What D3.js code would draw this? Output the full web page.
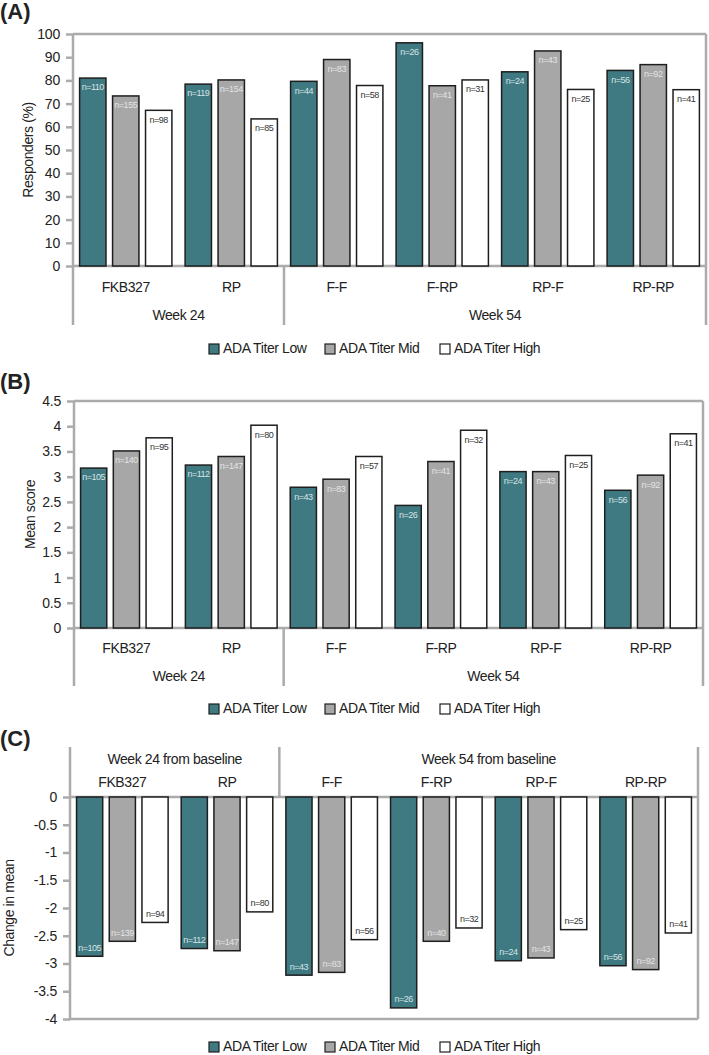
<!doctype html>
<html>
<head>
<meta charset="utf-8">
<title>ADA titer panels</title>
<script src="https://cdn.jsdelivr.net/npm/d3@7"></script>
<style>
  body { margin: 0; background: #fff; }
  svg { display: block; }
  .tick text, .lab { font-family: 'Liberation Sans', Arial, sans-serif; fill: #222; letter-spacing: -0.4px; }
  .ptitle { font-family: 'Liberation Sans', Arial, sans-serif; font-weight: bold; font-size: 22px; fill: #222; }
</style>
</head>
<body>
<script>

// categories and groups
var categories = ["FKB327", "RP", "F-F", "F-RP", "RP-F", "RP-RP"];
var catWeek = ["Week 24", "Week 24", "Week 54", "Week 54", "Week 54", "Week 54"];
var weeks = ["Week 24", "Week 54"];
var weeksC = ["Week 24 from baseline", "Week 54 from baseline"];
var series = ["ADA Titer Low", "ADA Titer Mid", "ADA Titer High"];

// (A) responders %
var respLow  = [81.0, 78.4, 79.6, 96.2, 83.7, 84.3];
var respMid  = [73.3, 80.2, 89.0, 77.7, 92.7, 86.8];
var respHigh = [67.1, 63.4, 77.8, 80.2, 76.1, 76.0];
var respNLow  = [110, 119, 44, 26, 24, 56];
var respNMid  = [155, 154, 83, 41, 43, 92];
var respNHigh = [98, 85, 58, 31, 25, 41];

// (B) mean score
var scoreLow  = [3.17, 3.23, 2.79, 2.43, 3.10, 2.73];
var scoreMid  = [3.51, 3.40, 2.95, 3.30, 3.10, 3.03];
var scoreHigh = [3.77, 4.02, 3.40, 3.92, 3.42, 3.85];
var scoreNLow  = [105, 112, 43, 26, 24, 56];
var scoreNMid  = [140, 147, 83, 41, 43, 92];
var scoreNHigh = [95, 80, 57, 32, 25, 41];

// (C) change in mean
var changeLow  = [-2.87, -2.73, -3.21, -3.80, -2.95, -3.04];
var changeMid  = [-2.60, -2.77, -3.16, -2.60, -2.90, -3.11];
var changeHigh = [-2.26, -2.07, -2.57, -2.36, -2.39, -2.45];
var changeNLow  = [105, 112, 43, 26, 24, 56];
var changeNMid  = [139, 147, 83, 40, 43, 92];
var changeNHigh = [94, 80, 56, 32, 25, 41];

// tick labels
var ticksA = [0, 10, 20, 30, 40, 50, 60, 70, 80, 90, 100];
var ticksB = [0, 0.5, 1, 1.5, 2, 2.5, 3, 3.5, 4, 4.5];
var ticksC = [0, -0.5, -1, -1.5, -2, -2.5, -3, -3.5, -4];

var fills = ["#3f7981", "#a7a7a7", "#ffffff"];
var nColors = ["#d6e4e6", "#e4e4e4", "#333333"];
var frameCol = "#ababab";

var width = 709, height = 1055;

var svg = d3.select("body").append("svg")
  .attr("width", width)
  .attr("height", height);

function rows(vals, ns) {
  // one row per category: [{s, v, n}, ...]
  return categories.map(function(c, i) {
    return series.map(function(s, k) { return { s: s, v: vals[k][i], n: ns[k][i], k: k }; });
  });
}

function drawPanel(p) {
  var g = svg.append("g");
  var x = d3.scaleBand().domain(categories).range([p.left, p.right]);
  var xs = d3.scaleBand().domain(series).range([0, x.bandwidth()])
    .paddingInner(0.2).paddingOuter(0.2);
  var y = d3.scaleLinear().domain(p.domain).range([p.bottom, p.top]);
  var y0 = y(0);

  // frame lines
  var top = p.header ? p.frameTop : y(p.domain[1]);
  var bot = p.header ? y(p.domain[0]) : p.frameBottom;
  [p.left, p.right].forEach(function(xx) {
    g.append("line").attr("x1", xx).attr("x2", xx).attr("y1", top).attr("y2", bot)
      .attr("stroke", frameCol).attr("stroke-width", 2.5);
  });
  p.domain.forEach(function(d) {
    g.append("line").attr("x1", p.left).attr("x2", p.right).attr("y1", y(d)).attr("y2", y(d))
      .attr("stroke", frameCol).attr("stroke-width", 2.5);
  });

  // week separators
  var weekStarts = weeks.map(function(w) {
    var cs = categories.filter(function(c, i) { return catWeek[i] === w; });
    return { w: w, x0: x(cs[0]), x1: x(cs[cs.length - 1]) + x.bandwidth() };
  });
  weekStarts.slice(1).forEach(function(d) {
    g.append("line").attr("x1", d.x0).attr("x2", d.x0)
      .attr("y1", p.header ? p.frameTop : y0)
      .attr("y2", p.header ? y0 : p.frameBottom)
      .attr("stroke", frameCol).attr("stroke-width", 2.5);
  });

  // y axis
  var ax = g.append("g").attr("transform", "translate(" + p.left + ",0)")
    .call(d3.axisLeft(y).tickValues(p.ticks).tickSize(7).tickPadding(6)
      .tickFormat(function(d) { return String(d); }));
  ax.select(".domain").remove();
  ax.selectAll(".tick line").attr("stroke", frameCol).attr("stroke-width", 2.5);
  ax.selectAll(".tick text").style("font-size", "14px").style("letter-spacing", "-0.2px");

  // y title
  g.append("text").attr("class", "lab")
    .attr("transform", "translate(" + p.ytitleX + "," + ((p.top + p.bottom) / 2) + ") rotate(-90)")
    .attr("text-anchor", "middle").attr("dominant-baseline", "middle")
    .style("font-size", "14px").text(p.ytitle);

  // panel letter
  g.append("text").attr("class", "ptitle").attr("x", 0).attr("y", p.titleY)
    .attr("dominant-baseline", "middle").text(p.letter);

  // category + week labels
  g.selectAll(".cat").data(categories).enter().append("text")
    .attr("class", "lab")
    .attr("x", function(d) { return x(d) + x.bandwidth() / 2; })
    .attr("y", p.catY).attr("text-anchor", "middle").attr("dominant-baseline", "middle")
    .style("font-size", "14px").text(function(d) { return d; });
  g.selectAll(".wk").data(weekStarts).enter().append("text")
    .attr("class", "lab")
    .attr("x", function(d) { return (d.x0 + d.x1) / 2; })
    .attr("y", p.weekY).attr("text-anchor", "middle").attr("dominant-baseline", "middle")
    .style("font-size", "14px").text(function(d, i) { return p.weekNames[i]; });

  // bars
  var cat = g.selectAll(".catg").data(rows(p.vals, p.ns)).enter().append("g")
    .attr("transform", function(d, i) { return "translate(" + x(categories[i]) + ",0)"; });
  cat.selectAll("rect").data(function(d) { return d; }).enter().append("rect")
    .attr("x", function(d) { return xs(d.s); })
    .attr("y", function(d) { return Math.min(y(d.v), y0); })
    .attr("width", xs.bandwidth())
    .attr("height", function(d) { return Math.abs(y(d.v) - y0); })
    .attr("fill", function(d) { return fills[d.k]; })
    .attr("stroke", "#1e1e1e").attr("stroke-width", 1.5);
  cat.selectAll(".nl").data(function(d) { return d; }).enter().append("text")
    .attr("class", "lab")
    .attr("x", function(d) { return xs(d.s) + xs.bandwidth() / 2; })
    .attr("y", function(d) { return d.v >= 0 ? y(d.v) + 10 : y(d.v) - 8; })
    .attr("text-anchor", "middle").attr("dominant-baseline", "middle")
    .style("font-size", "9px").style("letter-spacing", "-0.5px")
    .style("fill", function(d) { return nColors[d.k]; })
    .text(function(d) { return "n=" + d.n; });

  // legend
  var lx = [209, 325, 440];
  var leg = g.selectAll(".leg").data(series).enter().append("g")
    .attr("transform", function(d, i) { return "translate(" + lx[i] + "," + p.legendY + ")"; });
  leg.append("rect").attr("x", 0).attr("y", -5).attr("width", 10).attr("height", 10)
    .attr("fill", function(d, i) { return fills[i]; })
    .attr("stroke", "#1e1e1e").attr("stroke-width", 1.2);
  leg.append("text").attr("class", "lab").attr("x", 14).attr("y", 0)
    .attr("dominant-baseline", "middle").style("font-size", "14px")
    .text(function(d) { return d; });
}

drawPanel({
  letter: "(A)", titleY: 13, ytitle: "Responders (%)", ytitleX: 29,
  left: 73, right: 706, top: 34, bottom: 266, domain: [0, 100], ticks: ticksA,
  catY: 288, weekY: 316, frameBottom: 325, legendY: 349, weekNames: weeks,
  vals: [respLow, respMid, respHigh], ns: [respNLow, respNMid, respNHigh]
});

drawPanel({
  letter: "(B)", titleY: 383, ytitle: "Mean score", ytitleX: 31,
  left: 74, right: 703, top: 401, bottom: 628, domain: [0, 4.5], ticks: ticksB,
  catY: 649, weekY: 677, frameBottom: 686, legendY: 709, weekNames: weeks,
  vals: [scoreLow, scoreMid, scoreHigh], ns: [scoreNLow, scoreNMid, scoreNHigh]
});

drawPanel({
  letter: "(C)", titleY: 740, ytitle: "Change in mean", ytitleX: 10, header: true,
  left: 70, right: 698, top: 797, bottom: 1019, domain: [-4, 0], ticks: ticksC,
  catY: 783, weekY: 760, frameTop: 747, legendY: 1047, weekNames: weeksC,
  vals: [changeLow, changeMid, changeHigh], ns: [changeNLow, changeNMid, changeNHigh]
});

</script>
</body>
</html>
